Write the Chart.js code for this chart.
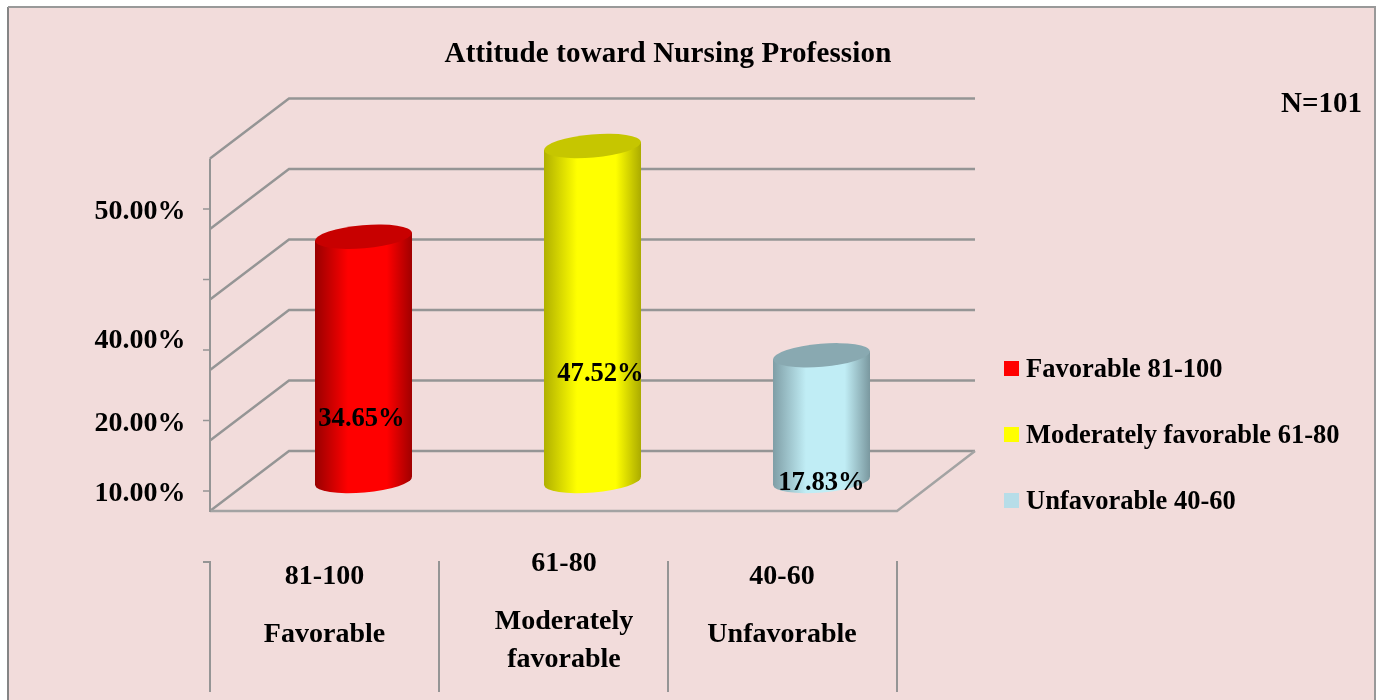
<!DOCTYPE html>
<html><head><meta charset="utf-8">
<script src="https://cdn.jsdelivr.net/npm/chart.js@4"></script>
<style>html,body{margin:0;padding:0;background:#fff}canvas{display:block}</style>
</head><body>
<canvas id="c" width="1376" height="700"></canvas>
<script>
const categories = ['Favorable 81-100', 'Moderately favorable 61-80', 'Unfavorable 40-60'];
const values = [34.65, 47.52, 17.83];
const valueLabels = ['34.65%', '47.52%', '17.83%'];
const legendColors = ['#ff0000', '#ffff00', '#b7dde8'];
const yTickLabels = ['10.00%', '20.00%', '40.00%', '50.00%'];
const yTickSlots = [0, 10, 21.7, 40];
const gridValues = [0, 10, 20, 30, 40, 50];
const tickValues = [0, 10, 20, 30, 40];
const categoryLines = [['81-100', 'Favorable'], ['61-80', 'Moderately', 'favorable'], ['40-60', 'Unfavorable']];
const chartTitle = 'Attitude toward Nursing Profession';
const noteText = 'N=101';

const shades = [
  ['#990000', '#ff0000', '#ff0000', '#a00000'],
  ['#b0b000', '#ffff00', '#ffff00', '#abab00'],
  ['#7f9ea6', '#c0edf5', '#c0edf5', '#7a989f']
];
const topColors = ['#c80000', '#c6c600', '#89a9b1'];

const FONT = '"Liberation Serif","Times New Roman",serif';
const TILT = -0.085, RY = 11.5;

function barGradient(c, x, w, i) {
  const g = c.createLinearGradient(x - w / 2, 0, x + w / 2, 0);
  const s = shades[i];
  g.addColorStop(0, s[0]); g.addColorStop(0.34, s[1]); g.addColorStop(0.74, s[2]); g.addColorStop(1, s[3]);
  return g;
}
function text(c, str, x, y, size, align, spacing) {
  c.font = 'bold ' + size + 'px ' + FONT;
  c.textAlign = align || 'center';
  c.textBaseline = 'middle';
  c.letterSpacing = (spacing || 0) + 'px';
  c.fillStyle = '#000';
  c.fillText(str, x, y);
  c.letterSpacing = '0px';
}
function bodyPath(c, b) {
  const t = Math.tan(-TILT) * b.width / 2, xl = b.x - b.width / 2, xr = b.x + b.width / 2;
  c.moveTo(xl, b.y + t); c.lineTo(xr, b.y - t); c.lineTo(xr, b.base - t); c.lineTo(xl, b.base + t); c.closePath();
}

const cylinder3d = {
  id: 'cylinder3d',
  beforeDraw(chart) {
    const c = chart.ctx, ys = chart.scales.y, xs = chart.scales.x;
    c.save();
    c.fillStyle = '#f2dcdb';
    c.fillRect(8, 7, 1367, 693);
    c.lineWidth = 2;
    c.strokeStyle = '#858585';
    c.beginPath(); c.moveTo(8, 700); c.lineTo(8, 7); c.stroke();
    c.strokeStyle = '#999999';
    c.beginPath(); c.moveTo(8, 7); c.lineTo(1375, 7); c.lineTo(1375, 700); c.stroke();

    const fl = xs.left - 39, fr = xs.right - 39, bl = xs.left + 40, br = xs.right + 39;
    c.strokeStyle = '#959595'; c.lineWidth = 2.4;
    gridValues.forEach(v => {
      const p = ys.getPixelForValue(v);
      c.beginPath(); c.moveTo(fl, p + 30); c.lineTo(bl, p - 30); c.lineTo(br, p - 30); c.stroke();
    });
    const p0 = ys.getPixelForValue(0), pTop = ys.getPixelForValue(50);
    c.strokeStyle = '#a3a3a3';
    c.beginPath(); c.moveTo(fl, p0 + 30); c.lineTo(fr, p0 + 30); c.lineTo(br, p0 - 30); c.stroke();
    c.strokeStyle = '#959595'; c.lineWidth = 2;
    c.beginPath(); c.moveTo(fl, pTop + 30); c.lineTo(fl, p0 + 31); c.stroke();
    c.lineWidth = 1.5;
    tickValues.forEach(v => {
      const p = ys.getPixelForValue(v) + 10;
      c.beginPath(); c.moveTo(fl - 7, p); c.lineTo(fl, p); c.stroke();
    });
    // category separators below the plot
    c.lineWidth = 2;
    const band = (xs.right - xs.left) / categories.length;
    for (let i = 0; i <= categories.length; i++) {
      const x = fl + i * band;
      c.beginPath(); c.moveTo(x, p0 + 80); c.lineTo(x, p0 + 211); c.stroke();
    }
    c.beginPath(); c.moveTo(fl - 7, p0 + 81); c.lineTo(fl, p0 + 81); c.stroke();
    c.restore();
  },
  beforeDatasetDraw(chart) {
    const c = chart.ctx, bars = chart.getDatasetMeta(0).data;
    // lower rims and tilted side walls first, then clip the bar bodies to the same outline
    bars.forEach((b, i) => {
      c.fillStyle = barGradient(c, b.x, b.width, i);
      c.beginPath(); c.ellipse(b.x, b.base, b.width / 2, RY, TILT, 0, Math.PI * 2); c.fill();
      c.beginPath(); bodyPath(c, b); c.fill();
    });
    c.save();
    c.beginPath();
    bars.forEach(b => bodyPath(c, b));
    c.clip();
  },
  afterDatasetDraw(chart) {
    const c = chart.ctx, bars = chart.getDatasetMeta(0).data;
    c.restore();
    bars.forEach((b, i) => {
      c.beginPath(); c.ellipse(b.x, b.y, b.width / 2, RY, TILT, 0, Math.PI * 2);
      c.fillStyle = topColors[i]; c.fill();
    });
  },
  afterDraw(chart) {
    const c = chart.ctx, ys = chart.scales.y;
    c.save();
    text(c, chartTitle, 668, 55, 29, 'center', 0.15);
    text(c, noteText, 1362, 105, 29, 'right');
    yTickLabels.forEach((l, i) => text(c, l, 140, ys.getPixelForValue(yTickSlots[i]) + 13, 28));

    const bars = chart.getDatasetMeta(0).data;
    const labelY = [419, 374, 483], labelDx = [-2, 8, 0];
    bars.forEach((b, i) => text(c, valueLabels[i], b.x + labelDx[i], labelY[i], 26.6));

    const catX = [324.5, 564, 782];
    const catY = [[577, 635], [564, 622, 660], [577, 635]];
    categoryLines.forEach((ls, i) => ls.forEach((l, j) => text(c, l, catX[i], catY[i][j], 28)));

    const legY = [368, 434, 500];
    categories.forEach((l, i) => {
      c.fillStyle = legendColors[i];
      c.fillRect(1004, legY[i] - 7, 15, 15);
      text(c, l, 1026, legY[i] + 2, 26.5, 'left');
    });
    c.restore();
  }
};

new Chart(document.getElementById('c'), {
  type: 'bar',
  data: {
    labels: categories,
    datasets: [{
      data: values,
      backgroundColor(ctx) {
        const i = ctx.dataIndex;
        if (i === undefined || !ctx.chart.chartArea) return legendColors[0];
        const xs = ctx.chart.scales.x;
        const band = (xs.right - xs.left) / categories.length;
        return barGradient(ctx.chart.ctx, xs.getPixelForValue(i), band * 0.4236, i);
      },
      borderWidth: 0,
      barPercentage: 0.4236,
      categoryPercentage: 1
    }]
  },
  options: {
    responsive: false,
    animation: false,
    events: [],
    layout: { padding: { left: 249, right: 440, top: 128.5, bottom: 219 } },
    plugins: { legend: { display: false }, title: { display: false }, tooltip: { enabled: false } },
    scales: {
      x: { display: false, grid: { display: false } },
      y: { display: false, min: 0, max: 50, grid: { display: false } }
    }
  },
  plugins: [cylinder3d]
});
</script>
</body></html>
